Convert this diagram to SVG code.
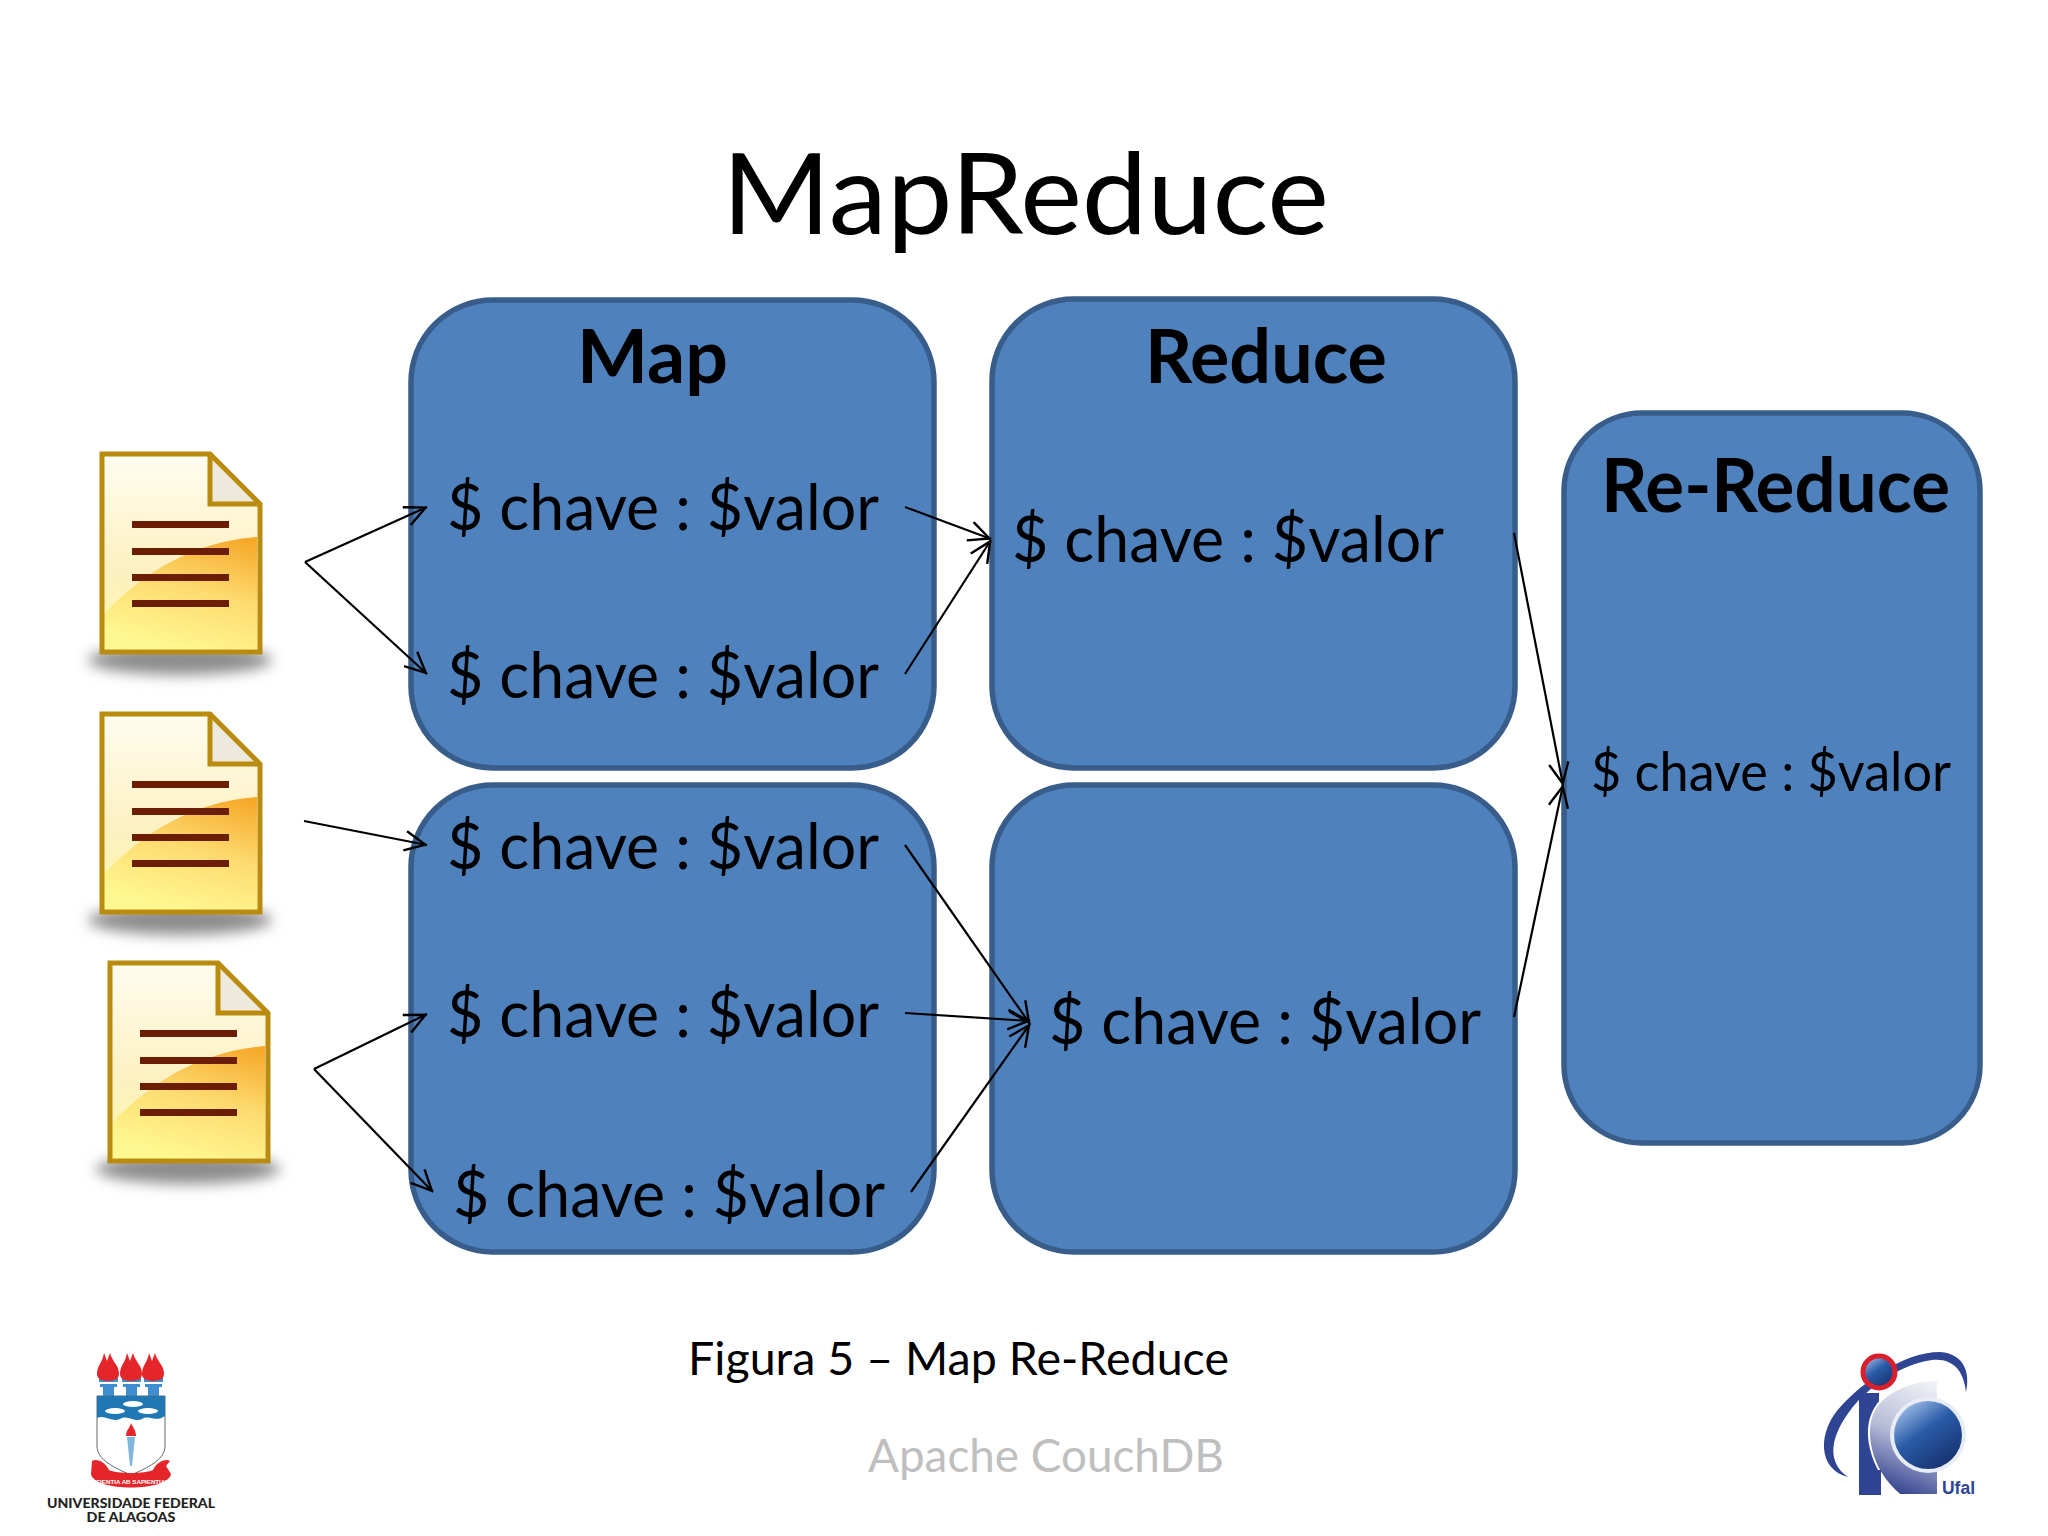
<svg xmlns="http://www.w3.org/2000/svg" width="2048" height="1536" viewBox="0 0 2048 1536">
<defs>
<style>
text{font-family:"Lato","Open Sans",sans-serif;fill:#000}
.box{fill:#4f81bd;stroke:#385d8a;stroke-width:5.5}
.h{font-size:74px;font-weight:700}
.kv{font-size:64px}
.kvs{font-size:54px}
.con{fill:none;stroke:#000;stroke-width:2.2;marker-end:url(#arr)}
.ln{fill:#6b1d06}
.ink{fill:#222;font-weight:900;font-size:14px}
.fl{fill:#e4262a}
.tw{fill:#3f8fd0}
</style>
<marker id="arr" markerUnits="userSpaceOnUse" markerWidth="26" markerHeight="26" refX="23.5" refY="12" orient="auto" viewBox="0 0 24 24"><path d="M3 3L22 12L3 21" fill="none" stroke="#000" stroke-width="2.2"/></marker>
<linearGradient id="pg" x1="0" y1="0" x2="0" y2="1"><stop offset="0" stop-color="#fffdf0"/><stop offset=".6" stop-color="#fdf0c0"/><stop offset="1" stop-color="#fff9a8"/></linearGradient>
<linearGradient id="gl" x1=".85" y1="0" x2=".5" y2="1"><stop offset="0" stop-color="#f6a929"/><stop offset=".5" stop-color="#fddb70"/><stop offset="1" stop-color="#fff78f"/></linearGradient>
<linearGradient id="ball" x1=".2" y1=".1" x2=".8" y2=".95"><stop offset="0" stop-color="#8fb0de"/><stop offset=".4" stop-color="#2a5ca8"/><stop offset="1" stop-color="#17316f"/></linearGradient>
<linearGradient id="cc" x1=".7" y1="0" x2=".45" y2="1"><stop offset="0" stop-color="#eef0f5"/><stop offset=".5" stop-color="#b5bbd6"/><stop offset="1" stop-color="#33428f"/></linearGradient>
<filter id="bl" x="-30%" y="-100%" width="160%" height="300%"><feGaussianBlur stdDeviation="7"/></filter>
<g id="doc">
<ellipse cx="80" cy="208" rx="92" ry="15" fill="#8c8c8c" filter="url(#bl)"/>
<path d="M2 2H110L160 52V200H2Z" fill="url(#pg)"/>
<path d="M3 163C45 118 95 90 157 85V197H3Z" fill="url(#gl)"/>
<path d="M110 2V52H160Z" fill="#eeeadb"/>
<path d="M2 2H110L160 52V200H2Z" fill="none" stroke="#b98c10" stroke-width="5"/>
<path d="M110 2V52H158" fill="none" stroke="#b98c10" stroke-width="5"/>
<rect class="ln" x="32" y="69" width="97" height="7"/>
<rect class="ln" x="32" y="96" width="97" height="7"/>
<rect class="ln" x="32" y="122" width="97" height="7"/>
<rect class="ln" x="32" y="148" width="97" height="7"/>
</g>
<path id="flame" d="M-11 0C-11 -9 -6 -10 -4 -21L-1 -13L2 -21C5 -11 11 -9 11 0C11 5 6 7 0 7C-6 7 -11 5 -11 0Z"/>
</defs>
<rect width="2048" height="1536" fill="#fff"/>
<text id="title" x="722" y="234" font-size="112" textLength="607" lengthAdjust="spacingAndGlyphs">MapReduce</text>

<g id="map-top">
<rect class="box" x="411" y="300" width="523" height="468" rx="82"/>
<text class="h" x="577" y="383" textLength="151" lengthAdjust="spacingAndGlyphs">Map</text>
<text class="kv" x="447" y="530" textLength="432" lengthAdjust="spacingAndGlyphs">$ chave : $valor</text>
<text class="kv" x="447" y="698" textLength="432" lengthAdjust="spacingAndGlyphs">$ chave : $valor</text>
</g>
<g id="reduce-top">
<rect class="box" x="992" y="299" width="523" height="469" rx="82"/>
<text class="h" x="1145" y="383" textLength="242" lengthAdjust="spacingAndGlyphs">Reduce</text>
<text class="kv" x="1012" y="562" textLength="432" lengthAdjust="spacingAndGlyphs">$ chave : $valor</text>
</g>
<g id="map-bottom">
<rect class="box" x="411" y="785" width="523" height="467" rx="82"/>
<text class="kv" x="447" y="869" textLength="432" lengthAdjust="spacingAndGlyphs">$ chave : $valor</text>
<text class="kv" x="447" y="1037" textLength="432" lengthAdjust="spacingAndGlyphs">$ chave : $valor</text>
<text class="kv" x="453" y="1217" textLength="432" lengthAdjust="spacingAndGlyphs">$ chave : $valor</text>
</g>
<g id="reduce-bottom">
<rect class="box" x="992" y="785" width="523" height="467" rx="82"/>
<text class="kv" x="1049" y="1044" textLength="432" lengthAdjust="spacingAndGlyphs">$ chave : $valor</text>
</g>
<g id="re-reduce">
<rect class="box" x="1564" y="413" width="416" height="730" rx="78"/>
<text class="h" x="1601" y="512" textLength="349" lengthAdjust="spacingAndGlyphs">Re-Reduce</text>
<text class="kvs" x="1591" y="791" textLength="360" lengthAdjust="spacingAndGlyphs">$ chave : $valor</text>
</g>
<g id="doc-1"><use href="#doc" x="100" y="452"/></g>
<g id="doc-2"><use href="#doc" x="100" y="712"/></g>
<g id="doc-3"><use href="#doc" x="108" y="961"/></g>

<g id="connectors">
<path class="con" d="M305 562L427 507"/>
<path class="con" d="M305 562L427 674"/>
<path class="con" d="M304 821L427 845"/>
<path class="con" d="M314 1069L427 1014"/>
<path class="con" d="M314 1069L433 1192"/>
<path class="con" d="M905 507L991 539"/>
<path class="con" d="M905 674L991 540"/>
<path class="con" d="M905 845L1030 1024"/>
<path class="con" d="M905 1013L1030 1021"/>
<path class="con" d="M911 1192L1030 1024"/>
<path class="con" d="M1514 533L1563 785"/>
<path class="con" d="M1514 1017L1563 785"/>
</g>

<text id="caption" x="688" y="1375" font-size="47" textLength="541" lengthAdjust="spacingAndGlyphs">Figura 5 – Map Re-Reduce</text>
<text id="footer" x="868" y="1472" font-size="47" style="fill:#bfbfbf" textLength="356" lengthAdjust="spacingAndGlyphs">Apache CouchDB</text>

<g id="logo-ufal">
<rect class="tw" x="99" y="1377" width="19" height="5"/><rect class="tw" x="122" y="1377" width="19" height="5"/><rect class="tw" x="144" y="1377" width="19" height="5"/>
<rect class="tw" x="100" y="1384" width="17" height="3"/><rect class="tw" x="123" y="1384" width="17" height="3"/><rect class="tw" x="145" y="1384" width="17" height="3"/>
<rect class="tw" x="103" y="1387" width="11" height="9"/><rect class="tw" x="126" y="1387" width="11" height="9"/><rect class="tw" x="148" y="1387" width="11" height="9"/>
<use class="fl" href="#flame" x="108" y="1374"/><use class="fl" href="#flame" x="131" y="1374"/><use class="fl" href="#flame" x="153" y="1374"/>
<path d="M97 1396V1446C97 1460 115 1468 131 1475C147 1468 165 1460 165 1446V1396Z" fill="#fff" stroke="#666" stroke-width="1"/>
<path d="M97 1396H165V1416C155 1423 150 1414 142 1419C134 1423 128 1414 120 1419C112 1423 105 1414 97 1418Z" fill="#1f78b4"/>
<g fill="#fff"><ellipse cx="133" cy="1404" rx="10" ry="3"/><ellipse cx="115" cy="1411" rx="10" ry="3"/><ellipse cx="148" cy="1411" rx="10" ry="3"/></g>
<path d="M126 1436C126 1430 130 1428 131 1423C133 1428 136 1430 136 1436Z" fill="#e4262a"/>
<path d="M127 1437H135L132 1466H130Z" fill="#7fb8de"/>
<path d="M92 1461C97 1458 105 1462 109 1470C116 1474 146 1474 153 1470C157 1462 165 1458 170 1461L166 1466L171 1474C168 1492 94 1492 91 1474Z" fill="#e4262a"/>
<text x="131" y="1484" font-size="6.2" text-anchor="middle" style="font-family:'Liberation Sans',sans-serif;fill:#fff;font-weight:700">SCIENTIA AB SAPIENTIAM</text>
<text class="ink" x="131" y="1508" text-anchor="middle" textLength="168" lengthAdjust="spacingAndGlyphs">UNIVERSIDADE FEDERAL</text>
<text class="ink" x="131" y="1522" text-anchor="middle" textLength="89" lengthAdjust="spacingAndGlyphs">DE ALAGOAS</text>
</g>

<g id="logo-ic">
<path d="M1848 1477C1818 1470 1816 1432 1842 1405C1862 1384 1902 1352 1940 1352C1966 1354 1970 1375 1966 1392C1964 1372 1954 1358 1932 1360C1900 1364 1868 1388 1852 1408C1830 1436 1826 1462 1848 1477Z" fill="#2f4594"/>
<rect x="1859" y="1393" width="20" height="102" fill="#2f4594"/>
<path d="M1938 1380V1495H1900C1870 1470 1860 1428 1878 1404C1893 1386 1918 1380 1938 1380Z" fill="url(#cc)" stroke="#fff" stroke-width="2"/>
<rect x="1859" y="1470" width="22" height="25" fill="#2f4594"/>
<circle cx="1928" cy="1435" r="38" fill="#e8ecf4"/>
<circle cx="1928" cy="1435" r="34" fill="url(#ball)"/>
<circle cx="1879" cy="1372" r="16" fill="url(#ball)" stroke="#d8202c" stroke-width="5"/>
<text x="1942" y="1494" font-size="18" textLength="33" lengthAdjust="spacingAndGlyphs" style="font-family:'Liberation Sans',sans-serif;font-weight:700;fill:#2f4594">Ufal</text>
</g>
</svg>
